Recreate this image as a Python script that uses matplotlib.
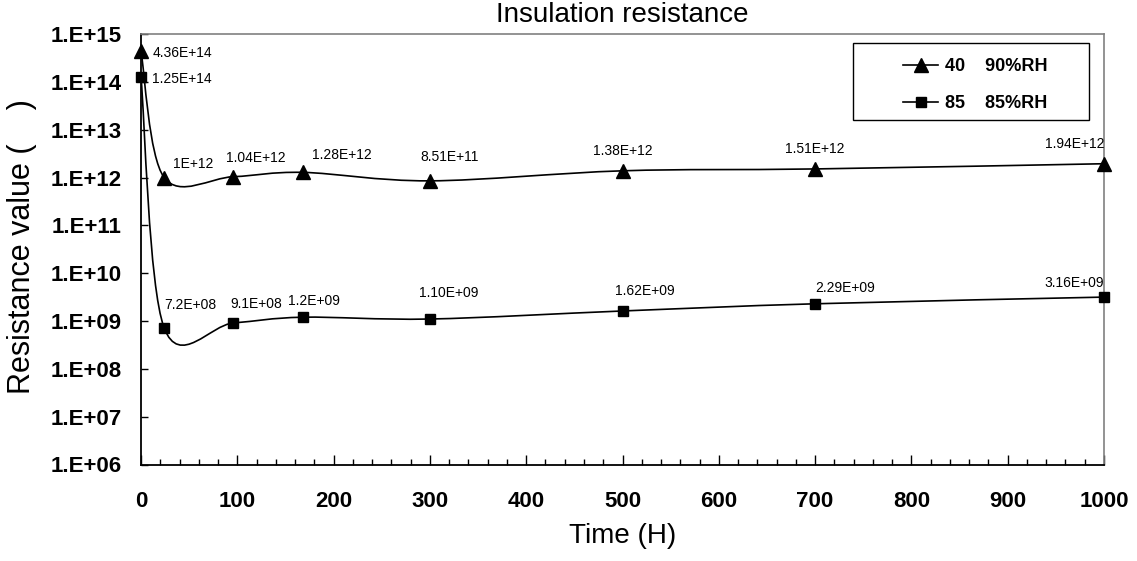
import numpy as np
import matplotlib
matplotlib.use("Agg")
from matplotlib import pyplot as plt
from matplotlib.path import Path
from matplotlib.patches import PathPatch, Rectangle
from matplotlib.lines import Line2D

# data
hours = [0, 24, 96, 168, 300, 500, 700, 1000]
res_40c = [4.36e14, 1.0e12, 1.04e12, 1.28e12, 8.51e11, 1.38e12, 1.51e12, 1.94e12]
res_85c = [1.25e14, 7.2e8, 9.1e8, 1.2e9, 1.10e9, 1.62e9, 2.29e9, 3.16e9]
labels_40c = ["4.36E+14", "1E+12", "1.04E+12", "1.28E+12", "8.51E+11",
              "1.38E+12", "1.51E+12", "1.94E+12"]
labels_85c = ["1.25E+14", "7.2E+08", "9.1E+08", "1.2E+09", "1.10E+09",
              "1.62E+09", "2.29E+09", "3.16E+09"]
series_names = ["40    90%RH", "85    85%RH"]
ytick_values = [1e6, 1e7, 1e8, 1e9, 1e10, 1e11, 1e12, 1e13, 1e14, 1e15]
ytick_labels = ["1.E+06", "1.E+07", "1.E+08", "1.E+09", "1.E+10",
                "1.E+11", "1.E+12", "1.E+13", "1.E+14", "1.E+15"]
xtick_values = [0, 100, 200, 300, 400, 500, 600, 700, 800, 900, 1000]

# label placement (offset pixels, alignment) - layout only
offsets_40c = [(12, -2, "left"), (9, 14, "left"), (22, 19, "center"), (9, 17, "left"),
               (20, 24, "center"), (0, 20, "center"), (0, 20, "center"), (0, 20, "right")]
offsets_85c = [(11, -2, "left"), (0, 23, "left"), (-3, 19, "left"), (11, 16, "center"),
               (19, 26, "center"), (22, 20, "center"), (0, 16, "left"), (0, 14, "right")]

plt.rcParams["font.family"] = ["Liberation Sans", "DejaVu Sans"]

W, H = 1137, 561
fig = plt.figure(figsize=(W / 100, H / 100), dpi=100)
ax = fig.add_axes([141 / W, 1 - 464.5 / H, (1104 - 141) / W, (464.5 - 34) / H])


def smooth_path(x, y):
    """Excel style smoothed line: Catmull-Rom bezier in (x, log y) space."""
    px = np.asarray(x, dtype=float)
    py = np.log10(np.asarray(y, dtype=float))
    n = len(px)
    verts = [(px[0], py[0])]
    codes = [Path.MOVETO]
    for i in range(n - 1):
        a = max(i - 1, 0)
        d = min(i + 2, n - 1)
        c1 = (px[i] + (px[i + 1] - px[a]) / 6, py[i] + (py[i + 1] - py[a]) / 6)
        c2 = (px[i + 1] - (px[d] - px[i]) / 6, py[i + 1] - (py[d] - py[i]) / 6)
        verts += [c1, c2, (px[i + 1], py[i + 1])]
        codes += [Path.CURVE4] * 3
    verts = [(vx, 10 ** vy) for vx, vy in verts]
    return Path(verts, codes)


ax.set_yscale("log")
ax.set_xlim(0, 1000)
ax.set_ylim(1e6, 1e15)

for vals, labels, offs, mk, ms in [(res_40c, labels_40c, offsets_40c, "^", 9.5),
                                   (res_85c, labels_85c, offsets_85c, "s", 7.5)]:
    ax.add_patch(PathPatch(smooth_path(hours, vals), fill=False, edgecolor="black",
                           lw=1.2, transform=ax.transData, zorder=3))
    ax.plot(hours, vals, ls="none", marker=mk, ms=ms, color="black", zorder=4, clip_on=False)
    for xv, yv, lab, (dx, dy, ha) in zip(hours, vals, labels, offs):
        ax.annotate(lab, (xv, yv), xytext=(dx, dy), textcoords="offset pixels",
                    ha=ha, va="center", fontsize=10, zorder=5)

ax.set_yticks(ytick_values)
ax.set_yticklabels(ytick_labels)
ax.yaxis.set_minor_locator(matplotlib.ticker.NullLocator())
ax.set_xticks(xtick_values)
ax.set_xticks(np.arange(0, 1001, 20), minor=True)
ax.tick_params(axis="y", which="major", direction="in", length=5, width=1, pad=14,
               labelsize=16)
ax.tick_params(axis="x", which="major", direction="in", length=7, width=1, pad=19,
               labelsize=16)
ax.tick_params(axis="x", which="minor", direction="in", length=4.5, width=1)
for lab in ax.get_xticklabels() + ax.get_yticklabels():
    lab.set_fontweight("bold")

for side in ["left", "bottom"]:
    ax.spines[side].set_color("black")
    ax.spines[side].set_linewidth(1.3)
for side in ["top", "right"]:
    ax.spines[side].set_color("#808080")
    ax.spines[side].set_linewidth(1.2)

fig.text(622 / W, 1 - 15 / H, "Insulation resistance", ha="center", va="center", fontsize=20)
fig.text(623 / W, 1 - 536 / H, "Time (H)", ha="center", va="center", fontsize=20)
fig.text(22 / W, 1 - 247 / H, "Resistance value (    )", ha="center", va="center",
         rotation=90, fontsize=22)

# legend box
ax.add_patch(Rectangle((853 / W, 1 - 120 / H), (1089 - 853) / W, (120 - 43) / H,
                       transform=fig.transFigure, facecolor="white",
                       edgecolor="black", lw=1.0, zorder=6, clip_on=False))
handles = [Line2D([], [], color="black", lw=1.2, marker="^", ms=9.5),
           Line2D([], [], color="black", lw=1.2, marker="s", ms=7.5)]
leg = ax.legend(handles, series_names, loc="upper left",
                bbox_to_anchor=(903 / W, 1 - 58 / H), bbox_transform=fig.transFigure,
                frameon=False, borderpad=0, borderaxespad=0, handlelength=1.95,
                handletextpad=0.35, labelspacing=1.1,
                prop={"size": 13, "weight": "bold"})
leg.set_zorder(7)

fig.savefig("out.png", dpi=100)
